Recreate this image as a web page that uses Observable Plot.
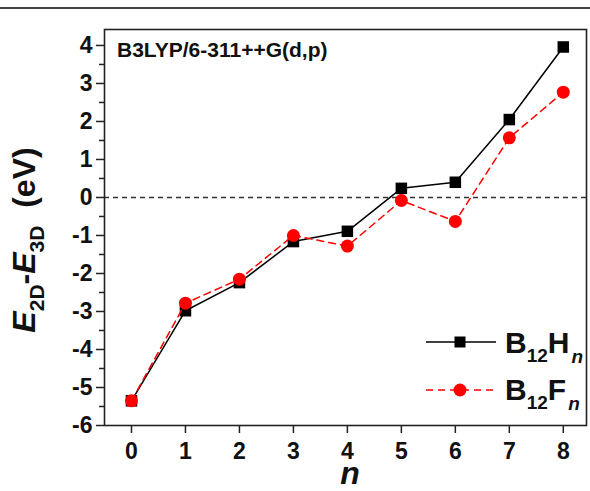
<!DOCTYPE html>
<html>
<head>
<meta charset="utf-8">
<script src="https://cdn.jsdelivr.net/npm/d3@7"></script>
<script src="https://cdn.jsdelivr.net/npm/@observablehq/plot@0.6"></script>
<style>
  html, body { margin: 0; padding: 0; background: #fff; }
  #chart { width: 590px; height: 491px; }
</style>
</head>
<body>
<div id="chart"></div>
<script>
// ---- data ----
const nValues = [0, 1, 2, 3, 4, 5, 6, 7, 8];
const b12H = [-5.35, -2.98, -2.24, -1.16, -0.89, 0.24, 0.40, 2.05, 3.96];
const b12F = [-5.35, -2.78, -2.15, -1.00, -1.28, -0.08, -0.63, 1.57, 2.77];
const yTicks = [-6, -5, -4, -3, -2, -1, 0, 1, 2, 3, 4];
const yMinorTicks = [-5.5, -4.5, -3.5, -2.5, -1.5, -0.5, 0.5, 1.5, 2.5, 3.5];
const xTicks = [0, 1, 2, 3, 4, 5, 6, 7, 8];
const methodLabel = "B3LYP/6-311++G(d,p)";

const H = nValues.map((n, i) => ({n, v: b12H[i]}));
const F = nValues.map((n, i) => ({n, v: b12F[i]}));

const font = "'Liberation Sans', Arial, Helvetica, sans-serif";

const plot = Plot.plot({
  width: 590,
  height: 491,
  marginLeft: 104,
  marginRight: 4,
  marginTop: 29,
  marginBottom: 66,
  style: {fontFamily: font, fontWeight: "bold", fontSize: "23px", background: "#fff", color: "#111", overflow: "visible"},
  x: {domain: [-0.5, 8.43]},
  y: {domain: [-6, 4.42]},
  marks: [
    Plot.ruleY([0], {stroke: "#333", strokeWidth: 1.3, strokeDasharray: "5,4"}),
    Plot.line(H, {x: "n", y: "v", stroke: "#000", strokeWidth: 1.5}),
    Plot.dot(H, {x: "n", y: "v", symbol: "square", r: 6.5, fill: "#000", stroke: "none"}),
    Plot.line(F, {x: "n", y: "v", stroke: "#ff0000", strokeWidth: 1.5, strokeDasharray: "7,5"}),
    Plot.dot(F, {x: "n", y: "v", symbol: "circle", r: 6.5, fill: "#ff0000", stroke: "none"}),
    Plot.axisY({ticks: yTicks, tickSize: 8, tickPadding: 4, tickFormat: d => String(d), label: null,
      fontSize: 23, fontWeight: "bold", stroke: "#222", strokeWidth: 1.5}),
    Plot.axisY({ticks: yMinorTicks, tickSize: 5, tickFormat: () => "", label: null, stroke: "#222", strokeWidth: 1.5}),
    Plot.axisX({ticks: xTicks, tickSize: 8, tickPadding: 9, tickFormat: d => String(d), label: null,
      fontSize: 23, fontWeight: "bold", stroke: "#222", strokeWidth: 1.5}),
    Plot.frame({stroke: "#222", strokeWidth: 1.6})
  ]
});

document.getElementById("chart").appendChild(plot);

const svg = d3.select(plot);

// top page rule
svg.append("line").attr("x1", 0).attr("x2", 590).attr("y1", 8).attr("y2", 8)
  .attr("stroke", "#444").attr("stroke-width", 2);

// method annotation
svg.append("text").attr("x", 117).attr("y", 57).attr("text-anchor", "start")
  .attr("font-family", font).attr("font-weight", "bold").attr("font-size", 21)
  .attr("fill", "#111").text(methodLabel);

// x label
svg.append("text").attr("x", 350).attr("y", 484).attr("text-anchor", "middle")
  .attr("font-family", font).attr("font-weight", "bold").attr("font-style", "italic")
  .attr("font-size", 32).attr("fill", "#111").text("n");

// y label
const yl = svg.append("text")
  .attr("transform", "translate(35,240) rotate(-90)")
  .attr("text-anchor", "middle")
  .attr("font-family", font).attr("font-weight", "bold").attr("font-size", 32).attr("fill", "#111");
yl.append("tspan").attr("font-style", "italic").text("E");
yl.append("tspan").attr("font-size", 21).attr("dy", 9).text("2D");
yl.append("tspan").attr("dy", -9).text("-");
yl.append("tspan").attr("font-style", "italic").text("E");
yl.append("tspan").attr("font-size", 21).attr("dy", 9).text("3D");
yl.append("tspan").attr("dy", -9).text("\u00a0\u00a0(eV)");

// legend
const lg = svg.append("g");
lg.append("line").attr("x1", 426).attr("x2", 496).attr("y1", 342).attr("y2", 342)
  .attr("stroke", "#000").attr("stroke-width", 1.5);
lg.append("rect").attr("x", 460 - 5.5).attr("y", 342 - 5.5).attr("width", 11).attr("height", 11).attr("fill", "#000");
lg.append("line").attr("x1", 426).attr("x2", 496).attr("y1", 390).attr("y2", 390)
  .attr("stroke", "#ff0000").attr("stroke-width", 1.5).attr("stroke-dasharray", "7,5");
lg.append("circle").attr("cx", 460).attr("cy", 390).attr("r", 6.5).attr("fill", "#ff0000");

function legendText(y, elem) {
  const t = lg.append("text").attr("x", 505).attr("y", y).attr("text-anchor", "start")
    .attr("font-family", font).attr("font-weight", "bold").attr("font-size", 30).attr("fill", "#111");
  t.append("tspan").text("B");
  t.append("tspan").attr("font-size", 19).attr("dy", 9).text("12");
  t.append("tspan").attr("dy", -9).text(elem);
  t.append("tspan").attr("font-size", 19).attr("font-style", "italic").attr("dy", 10).attr("dx", 2).text("n");
}
legendText(353, "H");
legendText(400, "F");
</script>
</body>
</html>
